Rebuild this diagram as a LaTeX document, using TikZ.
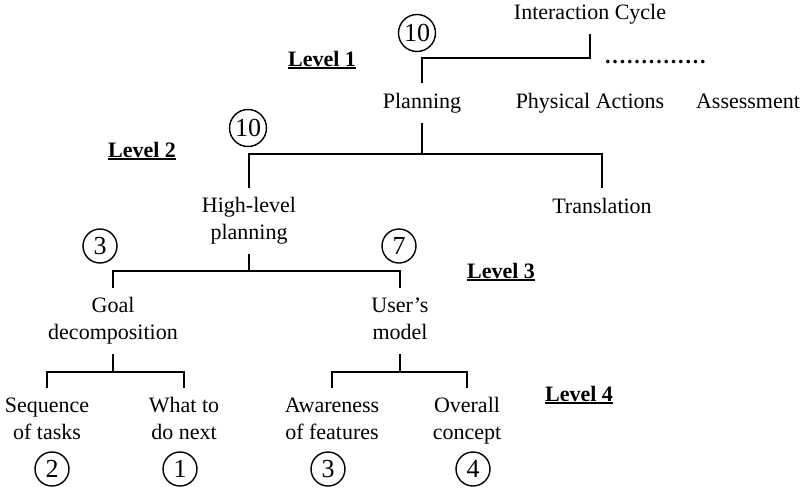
\documentclass[tikz,border=0pt]{standalone}
\usepackage{fontspec}
\setmainfont{Liberation Serif}
\newcommand\myul[1]{\setbox0\hbox{#1}\rlap{\rule[-3pt]{\wd0}{1.6pt}}\box0}
\newcommand\dd{.\kern1.8pt}
\begin{document}
\begin{tikzpicture}[x=1pt,y=-1pt,
  lbl/.style={inner sep=0pt, minimum height=40pt, text height=15pt, text depth=5pt, font=\fontsize{22}{27}\selectfont},
  lbltwo/.style={inner sep=0pt, minimum height=66pt, align=center, font=\fontsize{22}{27}\selectfont},
  lvl/.style={inner sep=0pt, anchor=base, font=\fontsize{22}{27}\selectfont\bfseries},
  num/.style={circle, draw, line width=1.4pt, inner sep=0pt, minimum size=34pt, font=\fontsize{26}{30}\selectfont},
  conn/.style={line width=1.6pt}]
\useasboundingbox (0,0) rectangle (804,496);

% text nodes
\node[lbl] (ic) at (590,14) {Interaction Cycle};
\node[lbl] (plan) at (422,103) {Planning};
\node[lbl] (phys) at (590,103) {Physical Actions};
\node[lbl] (assess) at (748,103) {Assessment};
\node[lbl] (trans) at (602,208) {Translation};
\node[lbltwo] (hl) at (249,221) {\strut High-level\\\strut planning};
\node[lbltwo] (goal) at (113,321) {\strut Goal\\\strut decomposition};
\node[lbltwo] (user) at (400,321) {\strut User’s\\\strut model};
\node[lbltwo] (seq) at (47,421) {\strut Sequence\\\strut of tasks};
\node[lbltwo] (what) at (184,421) {\strut What to\\\strut do next};
\node[lbltwo] (aware) at (332,421) {\strut Awareness\\\strut of features};
\node[lbltwo] (overall) at (467,421) {\strut Overall\\\strut concept};

% dots
\node[inner sep=0pt, anchor=base west, font=\fontsize{22}{27}\selectfont\bfseries] (dots) at (605,63) {\dd\dd\dd\dd\dd\dd\dd\dd\dd\dd\dd\dd\dd\dd};

% level labels
\node[lvl] (lv1) at (322,66) {\myul{Level 1}};
\node[lvl] (lv2) at (142,157) {\myul{Level 2}};
\node[lvl] (lv3) at (501,278) {\myul{Level 3}};
\node[lvl] (lv4) at (579,401) {\myul{Level 4}};

% circled numbers
\node[num, minimum size=37pt] (c10a) at (417,33) {10};
\node[num, minimum size=37pt] (c10b) at (248,128) {10};
\node[num] (c3a) at (100,246) {3};
\node[num] (c7) at (399,246) {7};
\node[num] (c2) at (52,469) {2};
\node[num] (c1) at (180,469) {1};
\node[num] (c3b) at (328,469) {3};
\node[num] (c4) at (473,469) {4};

% bar levels
\coordinate (b1) at (0,58);
\coordinate (b2) at (0,154);
\coordinate (b3) at (0,271);
\coordinate (b4) at (0,372);

% connectors
\draw[conn] (plan.north) |- (b1 -| ic.south) -- (ic.south);
\draw[conn] (plan.south) -- (plan.south |- b2);
\draw[conn] (hl.north) |- (b2 -| trans.north) -- (trans.north);
\draw[conn] (hl.south) -- (hl.south |- b3);
\draw[conn] (goal.north) |- (b3 -| user.north) -- (user.north);
\draw[conn] (goal.south) -- (goal.south |- b4);
\draw[conn] (seq.north) |- (b4 -| what.north) -- (what.north);
\draw[conn] (user.south) -- (user.south |- b4);
\draw[conn] (aware.north) |- (b4 -| overall.north) -- (overall.north);
\end{tikzpicture}
\end{document}
